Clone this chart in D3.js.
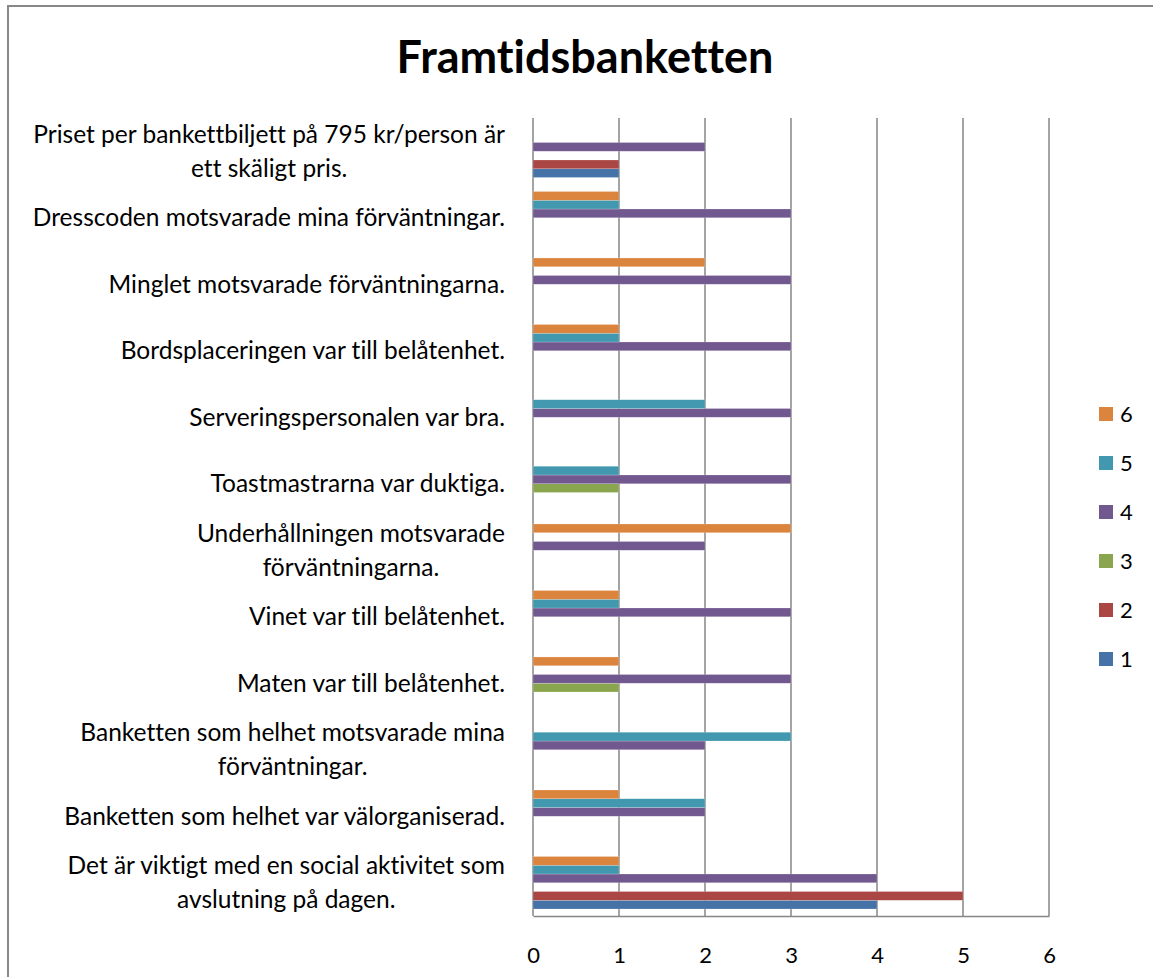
<!DOCTYPE html>
<html>
<head>
<meta charset="utf-8">
<script src="https://cdn.jsdelivr.net/npm/d3@7"></script>
<style>
  body { margin: 0; background: #fff; }
  text { font-family: Lato, "Open Sans", sans-serif; fill: #000; font-variant-ligatures: none; font-feature-settings: "liga" 0; }
</style>
</head>
<body>
<div id="chart"></div>
<script>
// categories, top to bottom ("\n" marks the line break)
const categories = [
  "Priset per bankettbiljett på 795 kr/person är\nett skäligt pris.",
  "Dresscoden motsvarade mina förväntningar.",
  "Minglet motsvarade förväntningarna.",
  "Bordsplaceringen var till belåtenhet.",
  "Serveringspersonalen var bra.",
  "Toastmastrarna var duktiga.",
  "Underhållningen motsvarade\nförväntningarna.",
  "Vinet var till belåtenhet.",
  "Maten var till belåtenhet.",
  "Banketten som helhet motsvarade mina\nförväntningar.",
  "Banketten som helhet var välorganiserad.",
  "Det är viktigt med en social aktivitet som\navslutning på dagen."
];

const seriesNames = ["1", "2", "3", "4", "5", "6"];
const colors = ["#4572A7", "#AA4643", "#89A54E", "#71588F", "#4198AF", "#DB843D"];

// values per series, same order as categories
const s1 = [1, 0, 0, 0, 0, 0, 0, 0, 0, 0, 0, 4];
const s2 = [1, 0, 0, 0, 0, 0, 0, 0, 0, 0, 0, 5];
const s3 = [0, 0, 0, 0, 0, 1, 0, 0, 1, 0, 0, 0];
const s4 = [2, 3, 3, 3, 3, 3, 2, 3, 3, 2, 2, 4];
const s5 = [0, 1, 0, 1, 2, 1, 0, 1, 0, 3, 2, 1];
const s6 = [0, 1, 2, 1, 0, 0, 3, 1, 1, 0, 1, 1];
const seriesValues = [s1, s2, s3, s4, s5, s6];

const xTicks = [0, 1, 2, 3, 4, 5, 6];

const W = 1153, H = 977;
const plot = { left: 533, right: 1049, top: 118, bottom: 916 };

const svg = d3.select("#chart").append("svg")
  .attr("width", W)
  .attr("height", H);

// outer frame
svg.append("rect")
  .attr("x", 8).attr("y", 6)
  .attr("width", W).attr("height", H)
  .attr("fill", "none")
  .attr("stroke", "#888")
  .attr("stroke-width", 2);

svg.append("text")
  .attr("x", 585)
  .attr("y", 73)
  .attr("text-anchor", "middle")
  .attr("font-size", 45)
  .attr("font-weight", "bold")
  .text("Framtidsbanketten");

const x = d3.scaleLinear().domain([0, 6]).range([plot.left, plot.right]);

const y = d3.scaleBand()
  .domain(categories)
  .range([plot.top, plot.bottom])
  .paddingInner(0.21)
  .paddingOuter(0.105);

// series 1 at the bottom of each group, 6 on top
const ySub = d3.scaleBand()
  .domain(seriesNames.slice().reverse())
  .range([0, y.bandwidth()]);

// gridlines
svg.append("g")
  .selectAll("line")
  .data(xTicks)
  .join("line")
  .attr("x1", d => x(d)).attr("x2", d => x(d))
  .attr("y1", plot.top).attr("y2", plot.bottom)
  .attr("stroke", "#868686")
  .attr("stroke-width", 1.5);

// bars
const groups = svg.append("g")
  .selectAll("g")
  .data(categories)
  .join("g")
  .attr("transform", d => `translate(0,${y(d)})`);

groups.selectAll("rect")
  .data((c, i) => seriesNames.map((s, k) => ({ s, k, v: seriesValues[k][i] })))
  .join("rect")
  .attr("x", x(0))
  .attr("y", d => ySub(d.s))
  .attr("width", d => x(d.v) - x(0))
  .attr("height", ySub.bandwidth())
  .attr("fill", d => colors[d.k])
  .attr("stroke", "#fff")
  .attr("stroke-opacity", 0.35)
  .attr("stroke-width", 0.6);

// bottom axis
const xAxis = svg.append("g")
  .attr("transform", `translate(0,${plot.bottom})`)
  .call(d3.axisBottom(x).tickValues(xTicks).tickSize(0).tickPadding(31).tickFormat(d3.format("d")));
xAxis.select(".domain").attr("stroke", "#868686").attr("stroke-width", 1.5);
xAxis.selectAll("text").attr("font-size", 22).attr("font-family", "Lato, sans-serif");

// category labels: block right-aligned at the axis, lines centred in the block
const lineH = 34;
const labelRight = 505;
svg.append("g")
  .selectAll("text")
  .data(categories)
  .join("text")
  .attr("text-anchor", "middle")
  .attr("font-size", 24.5)
  .each(function (d) {
    const lines = d.split("\n");
    const cy = y(d) + y.bandwidth() / 2;
    const t = d3.select(this);
    const spans = lines.map((ln, i) =>
      t.append("tspan")
        .attr("y", cy + (i - (lines.length - 1) / 2) * lineH)
        .attr("dy", "0.35em")
        .text(ln));
    const maxW = d3.max(spans, s => s.node().getComputedTextLength());
    spans.forEach(s => s.attr("x", labelRight - maxW / 2));
  });

// legend, 6 on top
const legend = svg.append("g")
  .selectAll("g")
  .data(seriesNames.slice().reverse())
  .join("g")
  .attr("transform", (d, i) => `translate(1099,${414 + i * 49})`);

legend.append("rect")
  .attr("x", 0).attr("y", -7)
  .attr("width", 14).attr("height", 14)
  .attr("fill", d => colors[seriesNames.indexOf(d)]);

legend.append("text")
  .attr("x", 21)
  .attr("dy", "0.35em")
  .attr("font-size", 22)
  .text(d => d);
</script>
</body>
</html>
